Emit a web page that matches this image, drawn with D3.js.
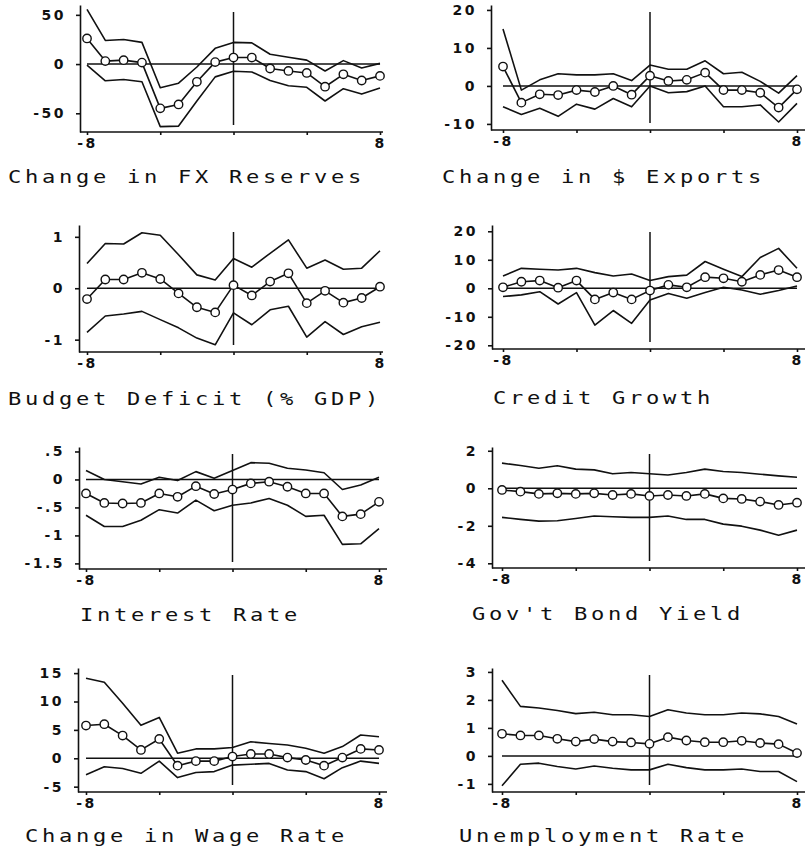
<!DOCTYPE html>
<html>
<head>
<meta charset="utf-8">
<script src="https://cdn.jsdelivr.net/npm/d3@7"></script>
<style>
    body { margin: 0; background: #ffffff; }
    svg { display: block; }
</style>
</head>
<body>
<div id="chart"></div>
<script>
//Lags shown on every panel
var lags = [-8, -7, -6, -5, -4, -3, -2, -1, 0, 1, 2, 3, 4, 5, 6, 7, 8];

//Change in FX Reserves
var fxMean = [26, 3, 4, 1.5, -45, -41, -18, 2, 6.6, 6.6, -4.5, -7, -9, -23, -10.4, -16.7, -12];
var fxUpper = [55.5, 24, 25, 22, -24, -19.4, -3, 16, 22, 21.5, 10, 7, 4, -7, 3.5, -4, 0.7];
var fxLower = [-1, -17, -15.6, -18, -63.5, -63, -37.5, -13, -7.3, -8, -16.7, -22, -23.6, -37.5, -25, -30.5, -24.3];
var fxTicks = [50, 0, -50];
var fxTickLabels = ["50", "0", "-50"];
var fxDomain = [-69, 60];

//Change in $ Exports
var exMean = [5.1, -4.4, -2.2, -2.4, -1.1, -1.6, 0, -2.3, 2.7, 1.3, 1.6, 3.5, -1.1, -1.1, -1.8, -5.7, -0.9];
var exUpper = [15, -1.1, 1.6, 3.2, 2.9, 2.9, 3.2, 1.4, 5.5, 4.4, 4.4, 6.6, 3.2, 3.6, 1.2, -1.9, 2.7];
var exLower = [-5.5, -7.5, -5.9, -8, -4.8, -6.1, -3.3, -5.5, 0, -1.8, -1.5, 0, -5.5, -5.5, -5, -9.5, -4.6];
var exTicks = [20, 10, 0, -10];
var exTickLabels = ["20", "10", "0", "-10"];
var exDomain = [-11.6, 21.3];

//Budget Deficit (% GDP)
var bdMean = [-0.21, 0.17, 0.17, 0.3, 0.18, -0.1, -0.37, -0.47, 0.06, -0.14, 0.13, 0.29, -0.29, -0.05, -0.28, -0.19, 0.03];
var bdUpper = [0.48, 0.87, 0.86, 1.08, 1.03, 0.65, 0.26, 0.16, 0.58, 0.41, 0.68, 0.94, 0.39, 0.55, 0.37, 0.39, 0.73];
var bdLower = [-0.86, -0.54, -0.5, -0.45, -0.61, -0.77, -0.97, -1.1, -0.48, -0.71, -0.42, -0.35, -0.95, -0.65, -0.9, -0.75, -0.66];
var bdTicks = [1, 0, -1];
var bdTickLabels = ["1", "0", "-1"];
var bdDomain = [-1.24, 1.23];

//Credit Growth
var cgMean = [0.35, 2.3, 2.7, 0.2, 2.7, -3.9, -1.5, -3.9, -0.8, 1.2, 0.35, 3.9, 3.5, 2.3, 4.7, 6.4, 3.9];
var cgUpper = [4.3, 7, 6.7, 6.4, 7, 5.5, 4.3, 5, 2.7, 4.1, 4.6, 9.4, 6.7, 4.1, 10.8, 14, 7];
var cgLower = [-2.9, -2.3, -1.2, -5.5, -1.5, -12.9, -7.8, -12.3, -4.1, -1.8, -3.5, -1.5, 0.35, -0.6, -2.1, -0.8, 0.8];
var cgTicks = [20, 10, 0, -10, -20];
var cgTickLabels = ["20", "10", "0", "-10", "-20"];
var cgDomain = [-21.3, 22.2];

//Interest Rate
var irMean = [-0.25, -0.42, -0.43, -0.42, -0.25, -0.31, -0.12, -0.26, -0.18, -0.07, -0.04, -0.13, -0.25, -0.25, -0.66, -0.62, -0.4];
var irUpper = [0.16, 0, -0.04, -0.08, 0.04, -0.02, 0.14, 0.02, 0.16, 0.3, 0.29, 0.2, 0.17, 0.12, -0.18, -0.1, 0.04];
var irLower = [-0.64, -0.84, -0.84, -0.73, -0.54, -0.6, -0.37, -0.56, -0.46, -0.42, -0.34, -0.46, -0.66, -0.64, -1.16, -1.15, -0.88];
var irTicks = [0.5, 0, -0.5, -1, -1.5];
var irTickLabels = [".5", "0", "-.5", "-1", "-1.5"];
var irDomain = [-1.6, 0.58];

//Gov't Bond Yield
var byMean = [-0.09, -0.18, -0.3, -0.27, -0.3, -0.27, -0.36, -0.3, -0.41, -0.36, -0.41, -0.3, -0.54, -0.57, -0.71, -0.89, -0.77];
var byUpper = [1.34, 1.21, 1.07, 1.2, 1.02, 0.98, 0.77, 0.84, 0.77, 0.71, 0.84, 1.02, 0.89, 0.84, 0.75, 0.66, 0.59];
var byLower = [-1.55, -1.66, -1.75, -1.73, -1.61, -1.48, -1.52, -1.55, -1.55, -1.48, -1.66, -1.66, -1.91, -2.02, -2.23, -2.5, -2.23];
var byTicks = [2, 0, -2, -4];
var byTickLabels = ["2", "0", "-2", "-4"];
var byDomain = [-4.25, 2.2];

//Change in Wage Rate
var wgMean = [5.76, 6, 4, 1.47, 3.4, -1.3, -0.5, -0.5, 0.3, 0.76, 0.76, 0.12, -0.3, -1.3, 0.12, 1.65, 1.47];
var wgUpper = [14.1, 13.4, 9.7, 5.8, 7.2, 0.9, 1.65, 1.65, 1.9, 2.9, 2.6, 2.35, 1.76, 0.9, 2.06, 4.1, 3.8];
var wgLower = [-2.9, -1.5, -1.8, -2.65, -0.5, -3.4, -2.5, -2.35, -1.2, -1.06, -0.9, -2.06, -2.35, -3.6, -1.65, -0.5, -0.9];
var wgTicks = [15, 10, 5, 0, -5];
var wgTickLabels = ["15", "10", "5", "0", "-5"];
var wgDomain = [-5.94, 15.9];

//Unemployment Rate
var unMean = [0.79, 0.73, 0.73, 0.61, 0.51, 0.6, 0.51, 0.48, 0.43, 0.67, 0.55, 0.49, 0.49, 0.54, 0.46, 0.42, 0.1];
var unUpper = [2.7, 1.77, 1.71, 1.62, 1.51, 1.56, 1.47, 1.47, 1.41, 1.65, 1.53, 1.47, 1.47, 1.53, 1.5, 1.41, 1.14];
var unLower = [-1.07, -0.3, -0.26, -0.38, -0.47, -0.36, -0.44, -0.5, -0.5, -0.3, -0.42, -0.5, -0.5, -0.47, -0.56, -0.56, -0.92];
var unTicks = [3, 2, 1, 0, -1];
var unTickLabels = ["3", "2", "1", "0", "-1"];
var unDomain = [-1.29, 3.14];

//x axis ticks
var xTicks = [-8, -4, 0, 4, 8];

//Build the panel table from the arrays
var panels = [
    {title: "Change in FX Reserves", mean: fxMean, upper: fxUpper, lower: fxLower, ticks: fxTicks, labels: fxTickLabels, domain: fxDomain},
    {title: "Change in $ Exports", mean: exMean, upper: exUpper, lower: exLower, ticks: exTicks, labels: exTickLabels, domain: exDomain},
    {title: "Budget Deficit (% GDP)", mean: bdMean, upper: bdUpper, lower: bdLower, ticks: bdTicks, labels: bdTickLabels, domain: bdDomain},
    {title: "Credit Growth", mean: cgMean, upper: cgUpper, lower: cgLower, ticks: cgTicks, labels: cgTickLabels, domain: cgDomain},
    {title: "Interest Rate", mean: irMean, upper: irUpper, lower: irLower, ticks: irTicks, labels: irTickLabels, domain: irDomain},
    {title: "Gov't Bond Yield", mean: byMean, upper: byUpper, lower: byLower, ticks: byTicks, labels: byTickLabels, domain: byDomain},
    {title: "Change in Wage Rate", mean: wgMean, upper: wgUpper, lower: wgLower, ticks: wgTicks, labels: wgTickLabels, domain: wgDomain},
    {title: "Unemployment Rate", mean: unMean, upper: unUpper, lower: unLower, ticks: unTicks, labels: unTickLabels, domain: unDomain}
];

//Position of every panel on the page
var layout = [
    {axisX: 80, x0: 87, x1: 380, right: 383, top: 5, bottom: 132, titleX: 8, titleY: 183},
    {axisX: 491, x0: 503, x1: 797, right: 805, top: 5, bottom: 130, titleX: 442, titleY: 183},
    {axisX: 79, x0: 87, x1: 380, right: 383, top: 225, bottom: 352, titleX: 8, titleY: 405},
    {axisX: 492, x0: 503, x1: 797, right: 805, top: 225, bottom: 349, titleX: 493, titleY: 404},
    {axisX: 79, x0: 86, x1: 379, right: 387, top: 447, bottom: 569, titleX: 80, titleY: 621},
    {axisX: 492, x0: 502, x1: 797, right: 805, top: 447, bottom: 568, titleX: 472, titleY: 620},
    {axisX: 78, x0: 86, x1: 379, right: 387, top: 668, bottom: 792, titleX: 25, titleY: 842},
    {axisX: 492, x0: 502, x1: 797, right: 805, top: 668, bottom: 792, titleX: 459, titleY: 842}
];

var ink = "#111";
var tickFont = "'DejaVu Sans', sans-serif";
var titleFont = "'DejaVu Sans Mono', monospace";

//Create SVG
var svg = d3.select("#chart")
    .append("svg")
    .attr("width", 809)
    .attr("height", 850);

function styleTickText(sel) {
    sel.attr("fill", ink)
        .attr("font-family", tickFont)
        .attr("font-weight", "bold")
        .attr("font-size", 14)
        .attr("letter-spacing", 2.5);
}

function drawPanel(p, l) {
    var g = svg.append("g");

    var x = d3.scaleLinear().domain([-8, 8]).range([l.x0, l.x1]);
    var y = d3.scaleLinear().domain(p.domain).range([l.bottom, l.top]);

    //y axis
    var yAxis = g.append("g")
        .attr("transform", "translate(" + l.axisX + ",0)")
        .call(d3.axisLeft(y)
            .tickValues(p.ticks)
            .tickFormat(function (d, i) { return p.labels[i]; })
            .tickSize(4)
            .tickSizeOuter(0)
            .tickPadding(10));
    yAxis.select(".domain").attr("stroke", ink).attr("stroke-width", 1.6);
    yAxis.selectAll(".tick line").attr("stroke", ink).attr("stroke-width", 1.6);
    styleTickText(yAxis.selectAll(".tick text"));

    //x axis
    var xAxis = g.append("g")
        .attr("transform", "translate(0," + l.bottom + ")")
        .call(d3.axisBottom(x)
            .tickValues(xTicks)
            .tickFormat(function (d) { return d === -8 ? "-8" : (d === 8 ? "8" : ""); })
            .tickSize(3)
            .tickPadding(3));
    xAxis.select(".domain").remove();
    xAxis.selectAll(".tick line").attr("stroke", ink).attr("stroke-width", 1.6);
    styleTickText(xAxis.selectAll(".tick text"));
    g.append("line")
        .attr("x1", l.axisX)
        .attr("x2", l.right)
        .attr("y1", l.bottom)
        .attr("y2", l.bottom)
        .attr("stroke", ink)
        .attr("stroke-width", 1.6);

    //zero line
    g.append("line")
        .attr("x1", x(-8))
        .attr("x2", x(8))
        .attr("y1", y(0))
        .attr("y2", y(0))
        .attr("stroke", ink)
        .attr("stroke-width", 1.5);

    //vertical line at lag 0
    g.append("line")
        .attr("x1", x(0))
        .attr("x2", x(0))
        .attr("y1", l.top + 7)
        .attr("y2", l.bottom - 7)
        .attr("stroke", ink)
        .attr("stroke-width", 1.5);

    var line = d3.line()
        .x(function (d, i) { return x(lags[i]); })
        .y(function (d) { return y(d); });

    //bands and mean
    [p.upper, p.lower, p.mean].forEach(function (s) {
        g.append("path")
            .attr("d", line(s))
            .attr("fill", "none")
            .attr("stroke", ink)
            .attr("stroke-width", 1.6)
            .attr("stroke-linejoin", "round");
    });

    //circles on the mean
    g.selectAll(".pt")
        .data(p.mean)
        .enter()
        .append("circle")
        .attr("class", "pt")
        .attr("cx", function (d, i) { return x(lags[i]); })
        .attr("cy", function (d) { return y(d); })
        .attr("r", 4.2)
        .attr("fill", "#fff")
        .attr("stroke", ink)
        .attr("stroke-width", 1.4);

    //title, stretched sideways like the plotter lettering
    g.append("text")
        .attr("transform", "translate(" + l.titleX + "," + l.titleY + ") scale(1.3,1)")
        .attr("font-family", titleFont)
        .attr("font-size", 17)
        .attr("letter-spacing", 2.85)
        .attr("fill", ink)
        .text(p.title);
}

panels.forEach(function (p, i) {
    drawPanel(p, layout[i]);
});
</script>
</body>
</html>
